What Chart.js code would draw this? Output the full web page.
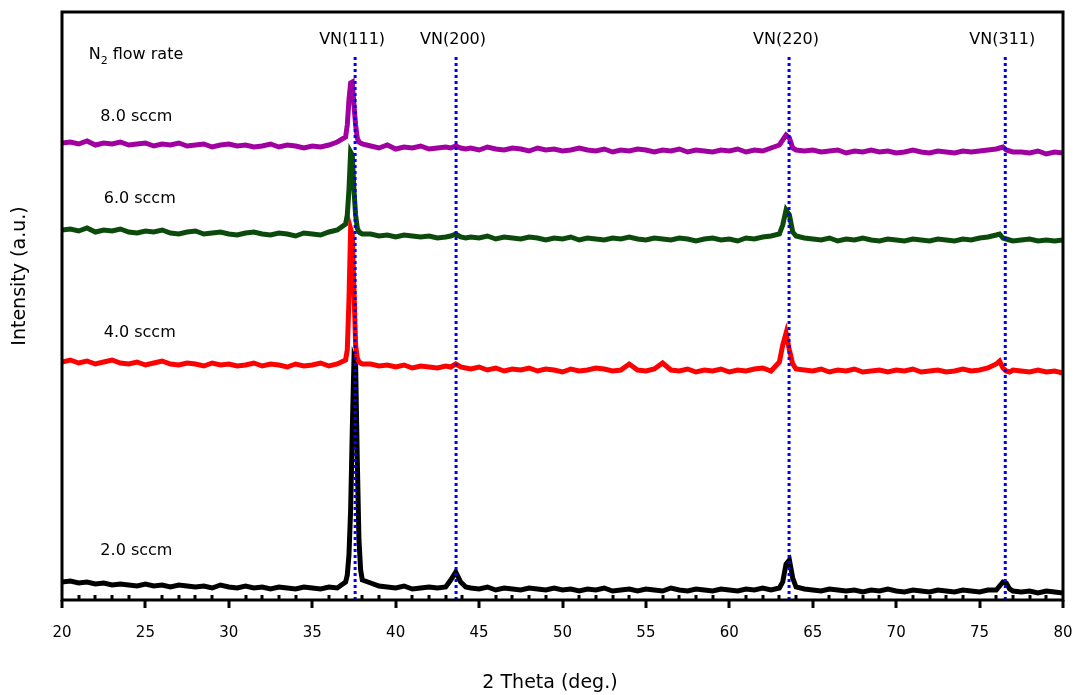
<!DOCTYPE html>
<html>
<head>
<meta charset="utf-8">
<script src="https://cdn.jsdelivr.net/npm/chart.js@4.4.1/dist/chart.umd.min.js"></script>
<style>
  html, body { margin: 0; padding: 0; background: #fff; }
  #wrap { width: 1079px; height: 695px; }
</style>
</head>
<body>
<div id="wrap"><canvas id="xrd"></canvas></div>
<script>
// 2 theta positions (deg.)
const twoTheta = [
  20,20.5,21,21.5,22,22.5,23,23.5,24,24.5,25,25.5,26,26.5,27,27.5,28,28.5,29,29.5,30,30.5,31,31.5,32,32.5,33,33.5,34,34.5,35,35.5,36,36.5,
  37,37.1,37.2,37.3,37.4,37.5,37.6,37.7,37.8,37.9,38,
  38.5,39,39.5,40,40.5,41,41.5,42,42.5,
  43,43.3,43.6,43.9,44.2,
  44.5,45,45.5,46,46.5,47,47.5,48,48.5,49,49.5,50,50.5,51,51.5,52,52.5,53,53.5,54,54.5,55,55.5,56,56.5,57,57.5,58,58.5,59,59.5,60,60.5,61,61.5,62,62.5,
  63,63.2,63.4,63.6,63.8,64,
  64.5,65,65.5,66,66.5,67,67.5,68,68.5,69,69.5,70,70.5,71,71.5,72,72.5,73,73.5,74,74.5,75,75.5,
  76,76.2,76.4,76.6,76.8,77,
  77.5,78,78.5,79,79.5,80
];

// intensities (a.u., curves already offset as in the figure)
const sccm2 = [
  18,19,17,18,16,17,15,16,15,14,16,14,15,13,15,14,13,14,12,15,13,12,14,12,13,11,13,12,11,13,12,11,13,12,
  18,25,45,90,170,240,235,140,60,30,20,
  17,14,13,12,14,11,12,13,12,
  13,20,28,18,13,
  12,11,13,10,12,11,10,12,11,10,12,10,11,9,11,10,12,9,10,11,9,11,10,9,12,10,9,11,10,9,11,10,9,11,10,12,10,
  12,18,36,40,22,13,
  11,10,9,11,10,9,10,8,10,9,11,9,8,10,9,8,10,9,8,10,9,8,10,
  10,14,18,17,11,9,
  8,9,7,9,8,7
];
const sccm4 = [
  238,240,237,239,236,238,240,237,236,238,235,237,239,236,235,237,236,234,237,235,236,234,235,237,234,236,235,233,236,234,235,237,234,236,
  240,250,300,371,365,310,255,242,238,237,236,
  236,234,235,233,235,232,234,233,232,
  234,233,236,233,232,
  231,233,230,232,229,231,230,232,229,231,230,228,231,229,230,232,231,229,230,236,230,229,231,237,230,229,231,228,230,229,231,228,230,229,231,232,229,
  238,255,267,250,236,231,
  230,229,231,228,230,229,231,228,229,230,228,230,229,231,228,229,230,228,229,231,229,230,232,
  236,239,232,229,228,230,
  229,228,230,228,229,227
];
const sccm6 = [
  370,371,369,372,368,370,369,371,368,367,369,368,370,367,366,368,369,366,367,368,366,365,367,368,366,365,367,366,364,367,366,365,368,370,
  376,385,410,448,445,410,385,372,368,367,366,
  366,364,365,363,365,364,363,364,362,
  363,364,366,363,362,
  363,362,364,361,363,362,361,363,362,360,362,361,363,360,362,361,360,362,361,363,361,360,362,361,360,362,361,359,361,362,360,361,359,362,361,363,364,
  366,375,390,385,368,364,
  362,361,360,362,359,361,360,362,360,359,361,360,359,361,360,359,361,360,359,361,360,362,363,
  365,366,362,361,360,359,
  360,361,359,360,359,360
];
const sccm8 = [
  457,458,456,459,455,457,456,458,455,456,457,454,456,455,457,454,455,456,453,455,456,454,455,453,454,456,453,455,454,452,454,453,455,458,
  463,475,500,517,518,495,475,462,458,457,456,
  454,452,455,451,453,452,454,451,452,
  453,452,454,452,451,
  452,450,453,451,450,452,451,449,452,450,451,449,450,452,450,449,451,448,450,449,451,450,448,450,449,451,448,450,449,448,450,449,451,448,450,449,452,
  455,460,465,462,452,450,
  449,450,448,449,450,447,449,448,450,448,449,447,448,450,448,447,449,448,447,449,448,449,450,
  451,452,453,450,449,448,
  448,447,449,446,448,447
];

// VN reference reflections
const vnPositions = [37.57, 43.62, 63.58, 76.54];
const vnLabels = ['VN(111)', 'VN(200)', 'VN(220)', 'VN(311)'];
const vnLineTop = 545;

// sample labels: text, x (deg), y (a.u.)
const sampleNames = ['8.0 sccm', '6.0 sccm', '4.0 sccm', '2.0 sccm'];
const sampleLabelX = [22.3, 22.5, 22.5, 22.3];
const sampleLabelY = [483, 401, 267, 49];

const FONT = '"DejaVu Sans", Verdana, sans-serif';

const toPts = arr => twoTheta.map((x, i) => ({ x: x, y: arr[i] }));

const refSets = vnPositions.map(p => ({
  data: [{ x: p, y: 0 }, { x: p, y: vnLineTop }],
  borderColor: '#0000ff',
  borderWidth: 3,
  borderDash: [3, 3],
  pointRadius: 0
}));

const curve = (arr, col) => ({
  data: toPts(arr),
  borderColor: col,
  borderWidth: 5,
  pointRadius: 0,
  tension: 0
});

const decor = {
  id: 'decor',
  afterDatasetsDraw(chart) {
    const ctx = chart.ctx;
    const a = chart.chartArea;
    const xs = chart.scales.x, ys = chart.scales.y;
    ctx.save();
    // frame
    ctx.strokeStyle = '#000';
    ctx.lineWidth = 3;
    ctx.strokeRect(a.left, a.top, a.right - a.left, a.bottom - a.top);
    // ticks
    for (let v = 20; v <= 80; v++) {
      const px = Math.round(xs.getPixelForValue(v));
      ctx.beginPath();
      if (v % 5 === 0) {
        ctx.moveTo(px, a.bottom);
        ctx.lineTo(px, a.bottom + 8);
      } else {
        ctx.moveTo(px, a.bottom);
        ctx.lineTo(px, a.bottom - 5);
      }
      ctx.stroke();
    }
    // reflection labels
    ctx.fillStyle = '#000';
    ctx.font = '16px ' + FONT;
    ctx.textAlign = 'center';
    ctx.textBaseline = 'middle';
    vnLabels.forEach((t, i) => {
      ctx.fillText(t, xs.getPixelForValue(vnPositions[i]) - 3, 40);
    });
    // sample labels
    ctx.textAlign = 'left';
    sampleNames.forEach((t, i) => {
      ctx.fillText(t, xs.getPixelForValue(sampleLabelX[i]), ys.getPixelForValue(sampleLabelY[i]));
    });
    // N2 flow rate
    const nx = xs.getPixelForValue(21.6), ny = 55;
    ctx.fillText('N', nx, ny);
    const nw = ctx.measureText('N').width;
    ctx.font = '11px ' + FONT;
    ctx.fillText('2', nx + nw, ny + 6);
    const sw = ctx.measureText('2').width;
    ctx.font = '16px ' + FONT;
    ctx.fillText(' flow rate', nx + nw + sw, ny);
    // axis titles
    ctx.font = '19px ' + FONT;
    ctx.textAlign = 'center';
    ctx.fillText('2 Theta (deg.)', 550, 683);
    ctx.translate(20, 276);
    ctx.rotate(-Math.PI / 2);
    ctx.fillText('Intensity (a.u.)', 0, 0);
    ctx.restore();
  }
};

new Chart(document.getElementById('xrd'), {
  type: 'line',
  data: {
    datasets: [
      ...refSets,
      curve(sccm8, '#a000a0'),
      curve(sccm6, '#0b4a0b'),
      curve(sccm4, '#ff0000'),
      curve(sccm2, '#000000')
    ]
  },
  options: {
    responsive: true,
    maintainAspectRatio: false,
    animation: false,
    events: [],
    layout: { padding: { top: 12, right: 16, left: 0, bottom: 0 } },
    plugins: {
      legend: { display: false },
      tooltip: { enabled: false },
      title: { display: false }
    },
    scales: {
      x: {
        type: 'linear',
        min: 20,
        max: 80,
        grid: { display: false },
        border: { display: false },
        ticks: {
          stepSize: 5,
          padding: 16,
          color: '#000',
          font: { family: FONT, size: 15 },
          maxRotation: 0
        },
        afterFit: s => { s.height = 95; s.paddingLeft = 0; s.paddingRight = 0; }
      },
      y: {
        type: 'linear',
        min: 0,
        max: 588,
        grid: { display: false },
        border: { display: false },
        ticks: { display: false },
        afterFit: s => { s.width = 62; s.paddingTop = 0; s.paddingBottom = 0; }
      }
    }
  },
  plugins: [decor]
});
</script>
</body>
</html>
